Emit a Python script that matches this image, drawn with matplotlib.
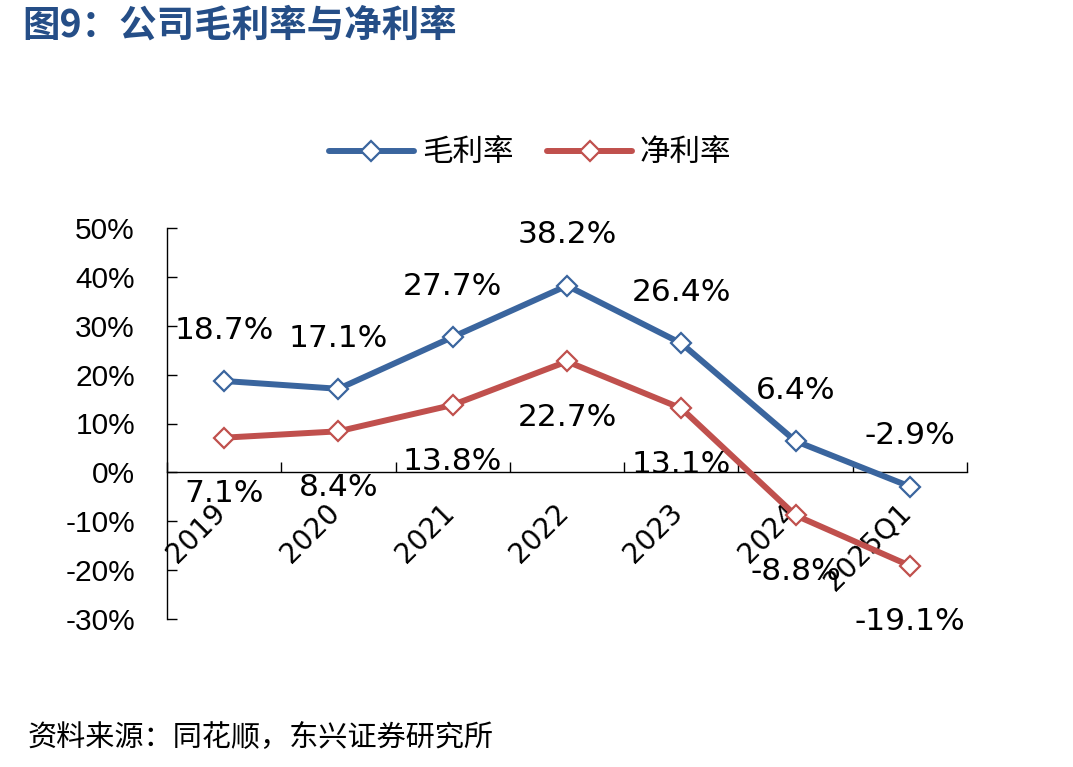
import matplotlib
matplotlib.use("Agg")
import matplotlib.pyplot as plt
import numpy as np

categories = ["2019", "2020", "2021", "2022", "2023", "2024", "2025Q1"]
gross_margin = [18.7, 17.1, 27.7, 38.2, 26.4, 6.4, -2.9]
net_margin = [7.1, 8.4, 13.8, 22.7, 13.1, -8.8, -19.1]
y_ticks = [-30, -20, -10, 0, 10, 20, 30, 40, 50]
series_names = ["毛利率", "净利率"]
title = "图9：公司毛利率与净利率"
source = "资料来源：同花顺，东兴证券研究所"

BLUE = "#3A659E"
RED = "#C0504D"
TITLE_C = "#254E87"

fig = plt.figure(figsize=(10.73, 7.67), dpi=100)
ax = fig.add_axes([167/1073, 1-619/767, 800/1073, (619-228)/767])

x = np.arange(len(categories))
l1, = ax.plot(x, gross_margin, color=BLUE, lw=4.3, marker="D", ms=10,
              mfc="white", mec=BLUE, mew=1.6, solid_capstyle="round", zorder=3)
l2, = ax.plot(x, net_margin, color=RED, lw=4.3, marker="D", ms=10,
              mfc="white", mec=RED, mew=1.6, solid_capstyle="round", zorder=3)

ax.set_xlim(-0.5, len(categories) - 0.5)
ax.set_ylim(-30, 50)

for s in ["top", "right"]:
    ax.spines[s].set_visible(False)
ax.spines["bottom"].set_position(("data", 0))
ax.spines["bottom"].set_linewidth(1.0)
ax.spines["left"].set_linewidth(1.0)

ax.set_yticks(y_ticks)
ax.set_yticklabels([f"{v}%" for v in y_ticks], fontfamily="Liberation Sans", fontsize=21.5)
ax.tick_params(axis="y", direction="in", length=7, width=1, pad=23)

ax.set_xticks(np.arange(len(categories) + 1) - 0.5)
ax.set_xticklabels([])
ax.tick_params(axis="x", direction="in", length=7, width=1)

for i, c in enumerate(categories):
    ax.annotate(c, xy=(i, 0), xycoords="data", xytext=(-2, -26), textcoords="offset points",
                rotation=45, rotation_mode="anchor", ha="right", va="center",
                fontfamily="DejaVu Sans", fontsize=20, zorder=1)

for i, v in enumerate(gross_margin):
    ax.annotate(f"{v}%", xy=(i, v), xytext=(0, 36.5), textcoords="offset points",
                ha="center", va="center", fontfamily="DejaVu Sans", fontsize=22.5, zorder=4)
for i, v in enumerate(net_margin):
    ax.annotate(f"{v}%", xy=(i, v), xytext=(0, -40.5), textcoords="offset points",
                ha="center", va="center", fontfamily="DejaVu Sans", fontsize=22.5, zorder=4)

leg = fig.legend([l1, l2], series_names, loc="center", bbox_to_anchor=(530/1073, 1-153/767),
                 ncol=2, frameon=False, handlelength=2.8, handletextpad=0.25, columnspacing=1.1,
                 prop={"family": ["Noto Sans CJK SC", "DejaVu Sans"], "size": 22})

fig.text(22/1073, 1-25/767, title, ha="left", va="center", color=TITLE_C,
         fontsize=27, fontweight="bold", family=["Noto Sans CJK SC", "DejaVu Sans"])
fig.text(28/1073, 1-738/767, source, ha="left", va="center", color="black",
         fontsize=21, style="italic", family=["Noto Sans CJK SC", "DejaVu Sans"])

fig.savefig("out.png", dpi=100)
